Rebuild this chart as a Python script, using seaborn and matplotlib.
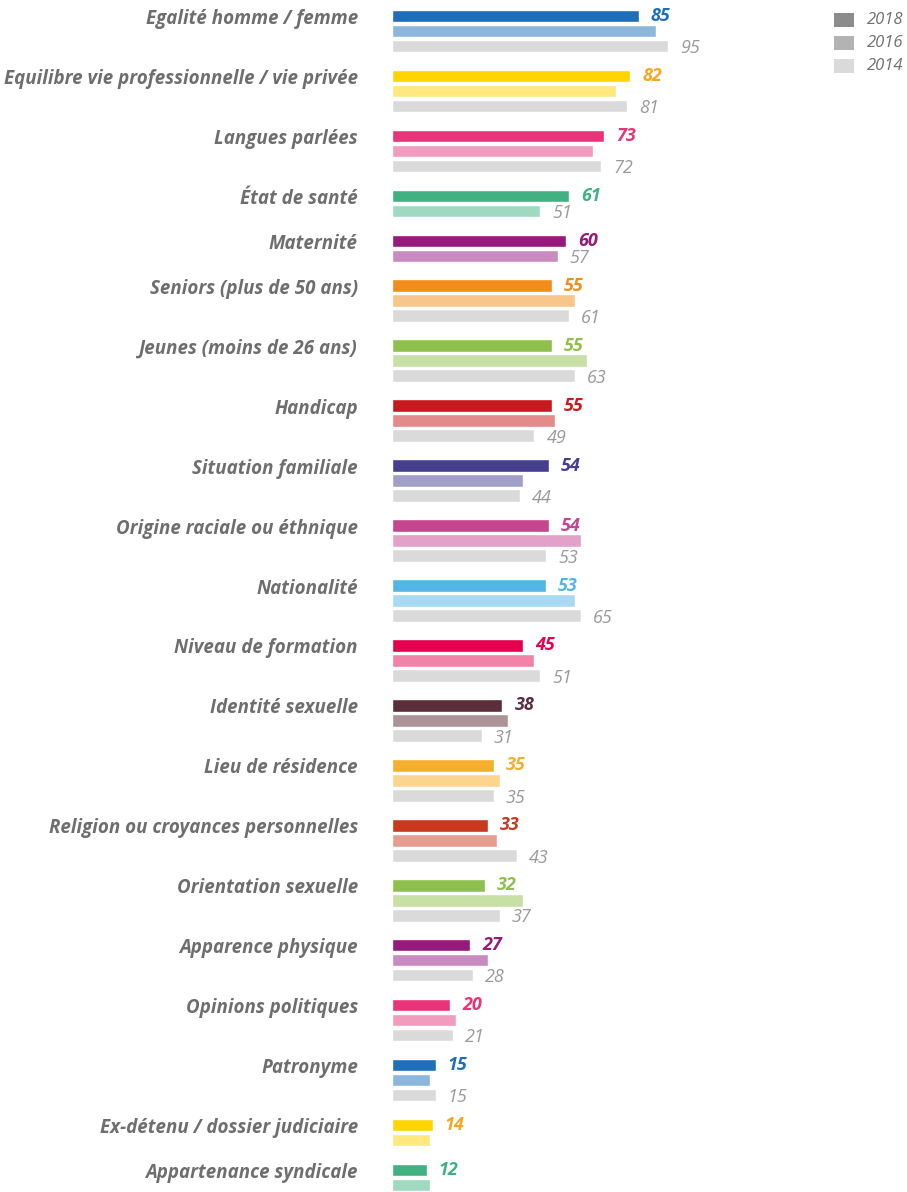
import matplotlib
matplotlib.use("Agg")
import matplotlib.pyplot as plt
import seaborn as sns
import pandas as pd
from matplotlib.patches import Rectangle

categories = [
    "Egalité homme / femme",
    "Equilibre vie professionnelle / vie privée",
    "Langues parlées",
    "État de santé",
    "Maternité",
    "Seniors (plus de 50 ans)",
    "Jeunes (moins de 26 ans)",
    "Handicap",
    "Situation familiale",
    "Origine raciale ou éthnique",
    "Nationalité",
    "Niveau de formation",
    "Identité sexuelle",
    "Lieu de résidence",
    "Religion ou croyances personnelles",
    "Orientation sexuelle",
    "Apparence physique",
    "Opinions politiques",
    "Patronyme",
    "Ex-détenu / dossier judiciaire",
    "Appartenance syndicale",
]
values_2018 = [85, 82, 73, 61, 60, 55, 55, 55, 54, 54, 53, 45, 38, 35, 33, 32, 27, 20, 15, 14, 12]
values_2016 = [91, 77, 69, 51, 57, 63, 67, 56, 45, 65, 63, 49, 40, 37, 36, 45, 33, 22, 13, 13, 13]
values_2014 = [95, 81, 72, None, None, 61, 63, 49, 44, 53, 65, 51, 31, 35, 43, 37, 28, 21, 15, None, None]
labelled_2016 = ["État de santé", "Maternité"]

colors_2018 = ["#1f6fb8", "#ffd400", "#e8357a", "#41b181", "#961a7b", "#f28c1a", "#8fbf4d",
               "#c8191f", "#453f8f", "#c6458f", "#52b5e6", "#e4004f", "#5c2e3b", "#f6ae2d",
               "#c9391d", "#8fbf4d", "#941b7b", "#e8357a", "#1f6fb8", "#ffd400", "#41b181"]
colors_2016 = ["#8db6dc", "#ffe87d", "#f39bbe", "#9fd9c0", "#c98bbf", "#f8c68b", "#c8dfa6",
               "#e38a8a", "#a09fc8", "#e3a0c8", "#a8daf3", "#f283a8", "#ab9399", "#fbd48e",
               "#e49d8e", "#c8dfa6", "#c98bbf", "#f39bbe", "#8db6dc", "#ffe87d", "#9fd9c0"]
label_colors_2018 = ["#1f6fb8", "#f5a623", "#e8357a", "#41b181", "#961a7b", "#f28c1a", "#8fbf4d",
                     "#c8191f", "#453f8f", "#c6458f", "#52b5e6", "#e4004f", "#5c2e3b", "#f6ae2d",
                     "#c9391d", "#8fbf4d", "#941b7b", "#e8357a", "#1f6fb8", "#f5a623", "#41b181"]
color_2014 = "#dadada"
gray_label = "#9a9a9a"
cat_label_color = "#6e6e6e"
legend_labels = ["2018", "2016", "2014"]
legend_colors = ["#8c8c8c", "#b3b3b3", "#dadada"]

sns.set_style("white")
plt.rcParams["font.family"] = ["Open Sans", "DejaVu Sans"]

# Build one row per bar, with slots (gap slot between groups)
rows = []
groups = []  # (category index, first slot, slot of labelled gray bar, value)
slot = 0
for i, cat in enumerate(categories):
    first = slot
    rows.append(dict(slot=str(slot), value=values_2018[i], color=colors_2018[i]))
    slot += 1
    rows.append(dict(slot=str(slot), value=values_2016[i], color=colors_2016[i]))
    last_slot, last_val = slot, values_2016[i]
    slot += 1
    if values_2014[i] is not None:
        rows.append(dict(slot=str(slot), value=values_2014[i], color=color_2014))
        last_slot, last_val = slot, values_2014[i]
        slot += 1
        gray = True
    else:
        gray = cat in labelled_2016
    groups.append((i, first, last_slot, last_val if gray else None))
    slot += 1
n_slots = slot
order = [str(s) for s in range(n_slots)]
df = pd.DataFrame(rows)
palette = {r["slot"]: r["color"] for r in rows}

W, H = 907, 1192
fig = plt.figure(figsize=(W / 100, H / 100), dpi=100)
x0 = 392
ax = fig.add_axes([x0 / W, 0, (W - x0) / W, 1])
sns.barplot(data=df, x="value", y="slot", order=order, hue="slot", palette=palette,
            dodge=False, legend=False, width=0.84, saturation=1, errorbar=None,
            orient="h", ax=ax)

px_per_unit = 2.906
ax.set_xlim(0, (W - x0) / px_per_unit)
pitch = (1185 - 16) / (n_slots - 2)
ax.set_ylim((H - 16) / pitch, -16 / pitch)
ax.axis("off")

for i, first, last_slot, last_val in groups:
    ax.annotate(categories[i], xy=(0, first + 0.2), xytext=(-34, 0), textcoords="offset pixels",
                ha="right", va="center", fontsize=13.5, fontweight="bold", fontstyle="italic",
                color=cat_label_color, annotation_clip=False)
    ax.annotate(str(values_2018[i]), xy=(values_2018[i], first), xytext=(12, 0),
                textcoords="offset pixels", ha="left", va="center", fontsize=13,
                fontweight="bold", fontstyle="italic", color=label_colors_2018[i],
                annotation_clip=False)
    if last_val is not None:
        ax.annotate(str(last_val), xy=(last_val, last_slot + 0.15), xytext=(12, 0),
                    textcoords="offset pixels", ha="left", va="center", fontsize=13,
                    fontstyle="italic", color=gray_label, annotation_clip=False)

# Legend (top right)
for k, (lab, col) in enumerate(zip(legend_labels, legend_colors)):
    cy = 20 + k * 23
    fig.patches.append(Rectangle((834 / W, 1 - (cy + 7) / H), 20 / W, 14 / H,
                                 transform=fig.transFigure, facecolor=col, edgecolor="none"))
    fig.text(867 / W, 1 - cy / H, lab, ha="left", va="center", fontsize=12,
             fontstyle="italic", color="#707070")

fig.savefig("out.png", dpi=100)
